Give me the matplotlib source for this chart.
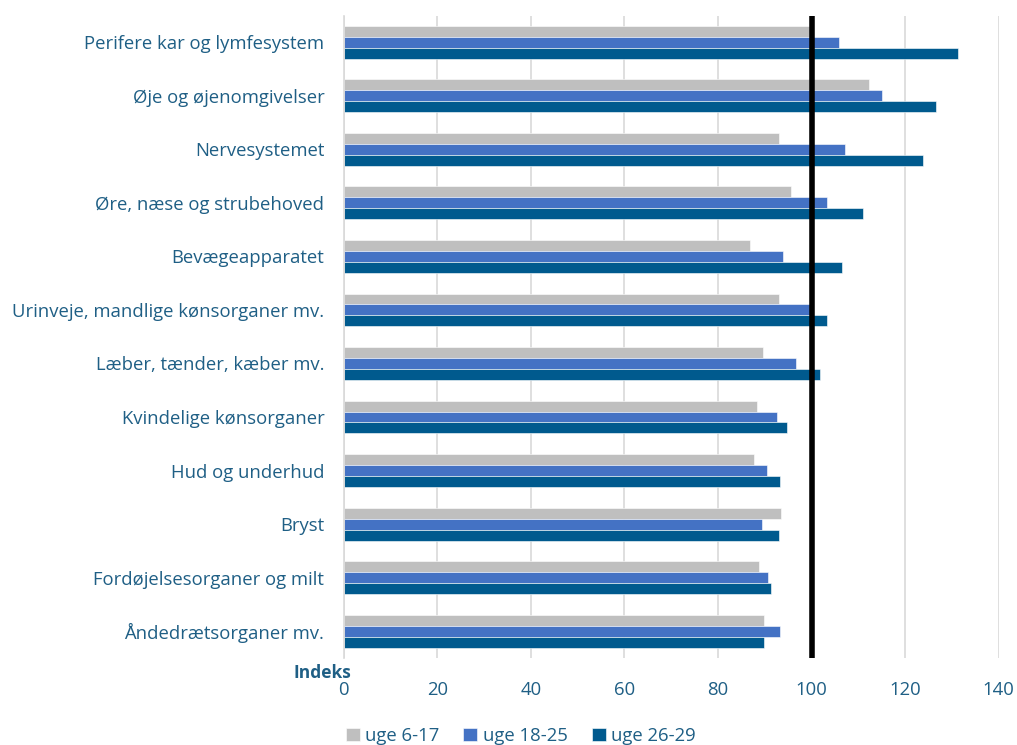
import matplotlib
matplotlib.use("Agg")
import numpy as np
import matplotlib.pyplot as plt

categories = [
    "Perifere kar og lymfesystem",
    "Øje og øjenomgivelser",
    "Nervesystemet",
    "Øre, næse og strubehoved",
    "Bevægeapparatet",
    "Urinveje, mandlige kønsorganer mv.",
    "Læber, tænder, kæber mv.",
    "Kvindelige kønsorganer",
    "Hud og underhud",
    "Bryst",
    "Fordøjelsesorganer og milt",
    "Åndedrætsorganer mv.",
]
uge_6_17 = [99.6, 112.2, 93.0, 95.7, 86.9, 93.0, 89.7, 88.3, 87.8, 93.5, 88.7, 89.8]
uge_18_25 = [105.8, 115.1, 107.2, 103.2, 93.8, 99.7, 96.7, 92.7, 90.5, 89.3, 90.7, 93.3]
uge_26_29 = [131.2, 126.6, 123.8, 111.0, 106.6, 103.3, 101.9, 94.8, 93.2, 93.0, 91.4, 89.9]
series_names = ["uge 6-17", "uge 18-25", "uge 26-29"]
xticks = [0, 20, 40, 60, 80, 100, 120, 140]

txt = "#1F5F85"
colors = ["#BFBFBF", "#4472C4", "#005A8E"]

plt.rcParams["font.family"] = ["Open Sans", "DejaVu Sans"]

fig = plt.figure(figsize=(10.17, 7.45), dpi=100)
ax = fig.add_axes([0.338, 0.117, 0.644, 0.862])

y = np.arange(len(categories))
h = 0.205
for i, (vals, name) in enumerate(zip([uge_6_17, uge_18_25, uge_26_29], series_names)):
    ax.barh(y + (i - 1) * h, vals, height=h, color=colors[i], label=name,
            edgecolor="white", linewidth=0.4, zorder=2)

ax.axvline(100, color="black", linewidth=4, zorder=3)

ax.set_xlim(0, 140)
ax.set_ylim(len(categories) - 0.5, -0.5)
ax.set_yticks(y)
ax.set_yticklabels(categories, fontsize=13.3, color=txt)
ax.set_xticks(xticks)
ax.set_xticklabels([str(t) for t in xticks], fontsize=13.3, color=txt)
ax.tick_params(axis="both", length=0)
ax.tick_params(axis="y", pad=14)
ax.tick_params(axis="x", pad=17)
ax.grid(axis="x", color="#D9D9D9", linewidth=1.2, zorder=0)
for s in ["top", "right", "bottom"]:
    ax.spines[s].set_visible(False)
ax.spines["left"].set_color("#D9D9D9")
ax.spines["left"].set_linewidth(1.2)

fig.text(0.289, 0.090, "Indeks", fontsize=12.5, fontweight="bold", color=txt)

handles, labels = ax.get_legend_handles_labels()
fig.legend(handles, labels, loc="lower center", bbox_to_anchor=(0.512, -0.022), ncol=3,
           frameon=False, fontsize=13.3, labelcolor=txt, handlelength=0.75,
           handleheight=0.75, handletextpad=0.3, columnspacing=1.3)

fig.savefig("out.png", dpi=100)
